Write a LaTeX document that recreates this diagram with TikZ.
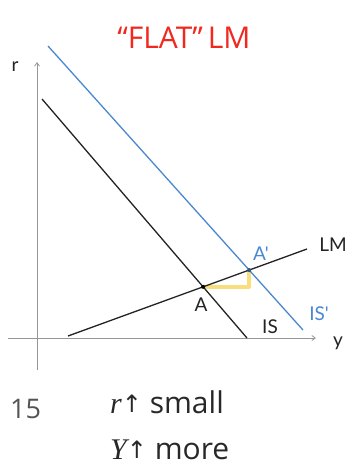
\documentclass[tikz,border=0pt]{standalone}
\usepackage{fontspec}
\setmainfont{Open Sans}
\newfontfamily\handfont{Lato}
\newfontfamily\mathfont{Liberation Serif}
\newfontfamily\symfont{DejaVu Sans}
\usetikzlibrary{
  arrows.meta,
  intersections,
  positioning,
}
\definecolor{cTitle}{RGB}{240, 40, 30}
\definecolor{cShift}{RGB}{ 74,136,208}
\definecolor{cCurve}{RGB}{ 35, 35, 35}
\definecolor{cAxis}{RGB}{150,150,150}
\definecolor{cGap}{RGB}{248,222,125}
\definecolor{cNote}{RGB}{ 40, 40, 40}
\tikzset{
  % Axis
  axis/.style={draw=cAxis, line width=0.8pt, -{Straight Barb[length=3.5pt, width=5pt]}},
  % Curves
  curve/.style={draw=#1, line width=1.3pt},
  % Handwritten label
  hand/.style={font=\handfont\fontsize{19}{19}\selectfont, text=#1, inner sep=0pt},
  % Equilibrium dot
  eqdot/.style={circle, fill=#1, inner sep=0pt, minimum size=4pt},
  % Bottom note
  note/.style={font=\fontsize{30}{30}\selectfont, text=cNote, anchor=base west, inner sep=0pt},
}
\newcommand{\upmark}{{\symfont\fontsize{24}{24}\selectfont\raisebox{1pt}{↑}}}

\begin{document}
\begin{tikzpicture}[x=1pt, y=-1pt]
\useasboundingbox (0,0) rectangle (349,472);

% ── Title ─────────────────────────────────────────────────────────────────────
\node[font=\fontsize{30}{30}\selectfont, text=cTitle, inner sep=0pt]
  (title) at (184,38) {“FLAT”\,LM};

% ── Axes ──────────────────────────────────────────────────────────────────────
\coordinate (rbot) at (37,370);
\coordinate (rtop) at (37,62);
\coordinate (yleft) at (8,338);
\coordinate (yright) at (316,338);
\draw[axis] (rbot) -- (rtop);
\draw[axis] (yleft) -- (yright);
\node[hand=cCurve] (rlab) at (15,67) {r};
\node[hand=cCurve] (ylab) at (338,343) {y};

% ── Curve end points ──────────────────────────────────────────────────────────
\coordinate (is0) at (42,99);
\coordinate (is1) at (247,338);
\coordinate (isp0) at (48,46);
\coordinate (isp1) at (303,330);
\coordinate (lm0) at (68,336);
\coordinate (lm1) at (307,249);

\path[name path=pIS] (is0) -- (is1);
\path[name path=pISp] (isp0) -- (isp1);
\path[name path=pLM] (lm0) -- (lm1);
\path[name intersections={of=pIS and pLM, by=eqA}];
\path[name intersections={of=pISp and pLM, by=eqB}];

% Yellow gap (r rises a little, Y rises more)
\draw[cGap, line width=3.5pt, line join=round]
  (eqA) -- (eqA -| eqB) -- (eqB);

% ── Curves ────────────────────────────────────────────────────────────────────
\draw[curve=cCurve] (is0) -- (is1);
\draw[curve=cShift] (isp0) -- (isp1);
\draw[curve=cCurve] (lm0) -- (lm1);

\node[eqdot=black] (dotA) at (eqA) {};
\node[eqdot=cShift!60!black] (dotB) at (eqB) {};

% ── Curve labels ──────────────────────────────────────────────────────────────
\node[hand=cCurve] (lmlab) at (333,245) {LM};
\node[hand=cCurve] (islab) at (270,327) {IS};
\node[hand=cShift] (isplab) at (319,314) {IS'};
\node[hand=cCurve] (alab) at (201,305) {A};
\node[hand=cShift] (aplab) at (261,254) {A'};

% ── Notes below ───────────────────────────────────────────────────────────────
\node[note, font=\fontsize{27}{27}\selectfont, text=cNote!80] (slide) at (10,418) {15};
\node[note] (rnote) at (110,413) {{\mathfont\itshape r}\upmark\ small};
\node[note] (ynote) at (110,459) {{\mathfont\itshape Y}\upmark\ more};

\end{tikzpicture}
\end{document}
